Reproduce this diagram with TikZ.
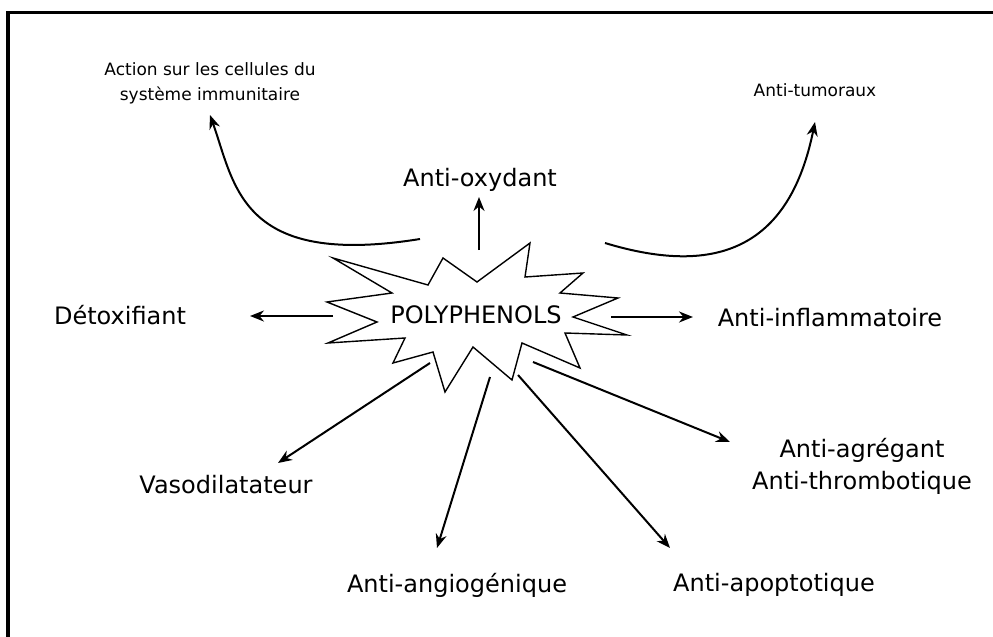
\documentclass[tikz,border=0pt]{standalone}
\usepackage{fontspec}
\setmainfont{DejaVu Sans}
\usepackage{tikz}
\usetikzlibrary{arrows.meta}

\begin{document}
\begin{tikzpicture}[x=0.5pt, y=-0.5pt,
  effet/.style={font=\fontsize{12}{16}\selectfont, align=center, inner sep=0pt},
  petit/.style={font=\fontsize{8.5}{12.5}\selectfont, align=center, inner sep=0pt},
  arrow/.style={-{Stealth[length=7pt, width=5.5pt]}, line width=1pt},
  burst/.style={draw, line width=0.7pt, line join=miter},
]
  \useasboundingbox (0,0) rectangle (993,637);
  \draw[line width=1.5pt] (8,637) -- (8,12) -- (993,12);

  % l'etoile
  \draw[burst] (333,258) -- (428,285) -- (443,258) -- (477,282) -- (530,243)
    -- (525,277) -- (583,273) -- (560,293) -- (618,298) -- (573,317)
    -- (627,335) -- (565,333) -- (580,368) -- (522,343) -- (512,380)
    -- (473,347) -- (445,392) -- (433,352) -- (393,363) -- (405,338)
    -- (328,343) -- (377,322) -- (327,302) -- (392,293) -- cycle;
  \node[effet] (poly) at (476,315) {POLYPHENOLS};

  % effets
  \node[petit] (immun) at (210,83) {Action sur les cellules du\\syst\`eme immunitaire};
  \node[petit] (tumor) at (815,90) {Anti-tumoraux};
  \node[effet] (oxy) at (480,180) {Anti-oxydant};
  \node[effet] (detox) at (120,315) {D\'etoxifiant};
  \node[effet] (inflam) at (830,318) {Anti-inflammatoire};
  \node[effet] (vaso) at (226,485) {Vasodilatateur};
  \node[effet] (angio) at (457,585) {Anti-angiog\'enique};
  \node[effet] (apop) at (774,585) {Anti-apoptotique};
  \node[effet] (agreg) at (862,466) {Anti-agr\'egant\\Anti-thrombotique};

  % departs et pointes
  \coordinate (s1) at (420,239);  \coordinate (t1) at (210,115);
  \coordinate (s2) at (605,243);  \coordinate (t2) at (815,122);
  \coordinate (s3) at (479,250);  \coordinate (t3) at (479,197);
  \coordinate (s4) at (333,316);  \coordinate (t4) at (250,316);
  \coordinate (s5) at (611,317);  \coordinate (t5) at (693,317);
  \coordinate (s6) at (430,363);  \coordinate (t6) at (278,463);
  \coordinate (s7) at (490,377);  \coordinate (t7) at (437,548);
  \coordinate (s8) at (533,362);  \coordinate (t8) at (730,442);
  \coordinate (s9) at (518,375);  \coordinate (t9) at (670,548);

  \draw[arrow] (s1) .. controls (240,268) and (235,185) .. (t1);
  \draw[arrow] (s2) .. controls (720,278) and (790,245) .. (t2);
  \draw[arrow] (s3) -- (t3);
  \draw[arrow] (s4) -- (t4);
  \draw[arrow] (s5) -- (t5);
  \draw[arrow] (s6) -- (t6);
  \draw[arrow] (s7) -- (t7);
  \draw[arrow] (s8) -- (t8);
  \draw[arrow] (s9) -- (t9);
\end{tikzpicture}
\end{document}
